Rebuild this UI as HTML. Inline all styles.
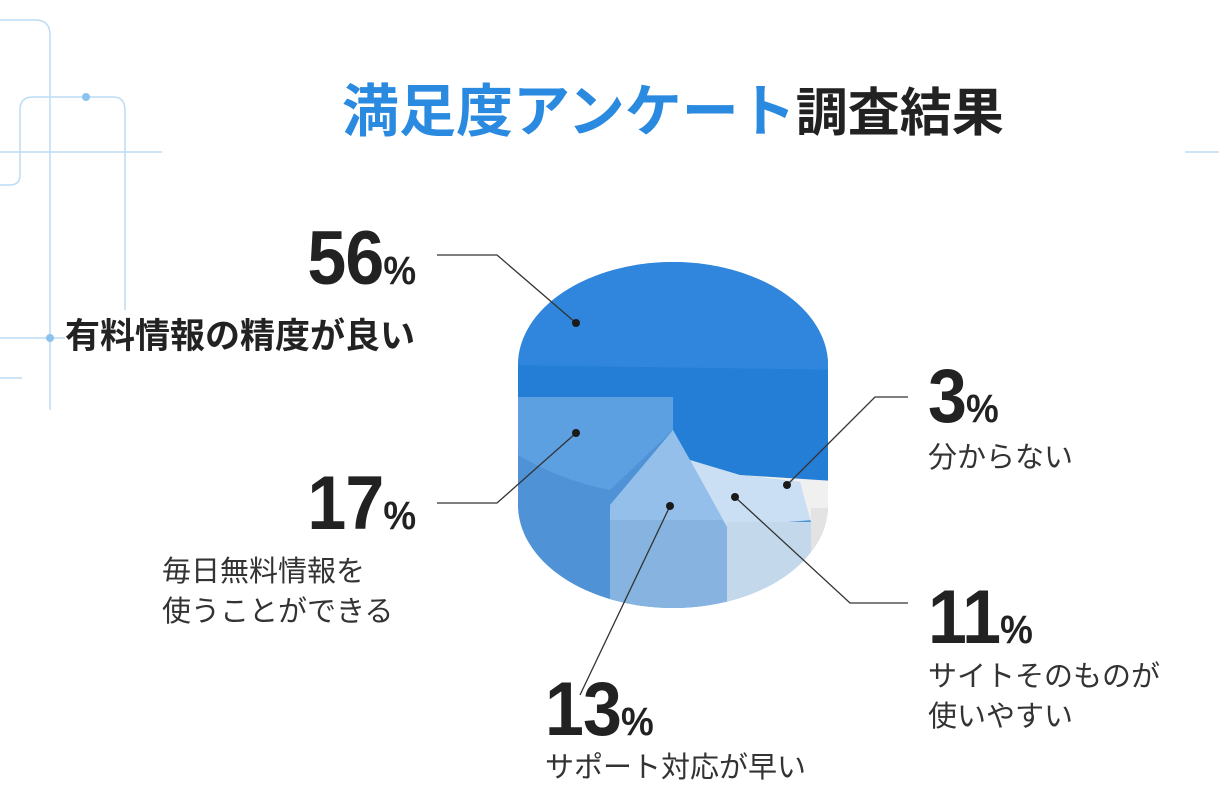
<!DOCTYPE html>
<html><head><meta charset="utf-8"><style>
body{margin:0;background:#fff;width:1219px;height:809px;overflow:hidden;position:relative;font-family:"Liberation Sans","Noto Sans CJK JP",sans-serif;color:#222}
.t{position:absolute;white-space:nowrap}
.num{position:absolute;font-family:"Liberation Sans Narrow","Liberation Sans",sans-serif;font-weight:bold;font-size:76px;line-height:1;transform:scaleX(0.92);letter-spacing:-1px;color:#222}
.num span{font-size:40px}
.lb{position:absolute;font-size:29px;line-height:40px;color:#333;white-space:nowrap}
</style></head><body>
<svg width="1219" height="809" style="position:absolute;left:0;top:0">
<g fill="none" stroke="#bcdcf3" stroke-width="1.5">
<path d="M0,20 H35 Q50,20 50,35 V410"/>
<path d="M0,185 H10 Q20,185 20,175 V110 Q20,97 33,97 H113 Q125,97 125,110 V310"/>
<line x1="0" y1="152" x2="162" y2="152"/>
<line x1="0" y1="338" x2="65" y2="338"/>
<line x1="0" y1="378" x2="22" y2="378"/>
<line x1="1185" y1="152" x2="1219" y2="152"/>
</g>
<circle cx="86" cy="97" r="4" fill="#8cc3ee"/>
<circle cx="50" cy="338" r="4" fill="#8cc3ee"/>
<defs><clipPath id="c"><path d="M518,365 A155,103 0 0 1 828,365 L828,505 A155,103 0 0 1 518,505 Z"/></clipPath></defs>
<g clip-path="url(#c)">
<rect x="500" y="250" width="350" height="380" fill="#4f93d6"/>
<rect x="500" y="250" width="350" height="120" fill="#2f86dc"/>
<path d="M500,365 L850,370 L850,482 L740,475 L690,460 L673,430 L673,398 L500,398 Z" fill="#247ed6"/>
<path d="M500,397 L673,397 L673,430 L610,490 Q560,480 518,455 Z" fill="#5ca0e2"/>
<path d="M673,430 L690,460 L727,527 L610,520 L610,505 Z" fill="#93bfea"/>
<rect x="610" y="520" width="117" height="100" fill="#86b3df"/>
<path d="M690,460 L740,475 L800,482 L812,520 L727,527 Z" fill="#cadff3"/>
<rect x="727" y="522" width="85" height="100" fill="#c4d8eb"/>
<path d="M740,475 L850,482 L850,530 L811,522 L800,482 Z" fill="#f0f0f0"/>
<rect x="811" y="508" width="40" height="120" fill="#e3e3e3"/>
</g>
<g stroke="#333" stroke-width="1.3" fill="none">
<polyline points="437,255 497,255 576,323"/>
<polyline points="437,503 497,503 576,433"/>
<polyline points="908,397 875,397 787,485"/>
<polyline points="908,603 850,603 735,497"/>
<polyline points="670,506 580,695"/>
</g>
<g fill="#1a1a1a"><circle cx="576" cy="323" r="4"/><circle cx="576" cy="433" r="4"/><circle cx="787" cy="485" r="4"/><circle cx="735" cy="497" r="4"/><circle cx="670" cy="506" r="4"/></g>
</svg>
<div class="t" style="left:342px;top:66px;font-size:57px;font-weight:bold;color:#2a8ae0">満足度アンケート<span style="color:#222;font-size:52px">調査結果</span></div>
<div class="num" style="right:804px;top:221px;transform-origin:right top">56<span>%</span></div>
<div class="t" style="right:804px;top:308px;font-size:35px;font-weight:bold;color:#222">有料情報の精度が良い</div>
<div class="num" style="right:804px;top:466px;transform-origin:right top">17<span>%</span></div>
<div class="lb" style="left:162px;top:552px">毎日無料情報を<br>使うことができる</div>
<div class="num" style="left:928px;top:359px;transform-origin:left top">3<span>%</span></div>
<div class="lb" style="left:928px;top:438px">分からない</div>
<div class="num" style="left:928px;top:580px;transform-origin:left top">11<span>%</span></div>
<div class="lb" style="left:928px;top:657px">サイトそのものが<br>使いやすい</div>
<div class="num" style="left:545px;top:672px;transform-origin:left top">13<span>%</span></div>
<div class="lb" style="left:545px;top:748px">サポート対応が早い</div>
</body></html>
